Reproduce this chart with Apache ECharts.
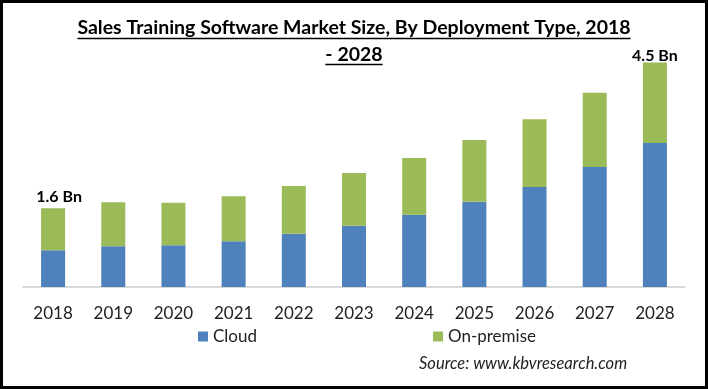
<!DOCTYPE html>
<html>
<head>
<meta charset="utf-8">
<script src="https://cdn.jsdelivr.net/npm/echarts@6/dist/echarts.min.js"></script>
<style>
html,body{margin:0;padding:0;background:#fff;}
#c{width:708px;height:389px;}
</style>
</head>
<body>
<div id="c"></div>
<script>
const years = ['2018','2019','2020','2021','2022','2023','2024','2025','2026','2027','2028'];
const cloud = [0.74,0.82,0.84,0.92,1.07,1.23,1.45,1.71,2.01,2.41,2.89];
const onPremise = [0.84,0.88,0.85,0.90,0.96,1.06,1.14,1.24,1.36,1.49,1.62];
const endLabels = {0:'1.6 Bn', 10:'4.5 Bn'};
const titleLines = ['Sales Training Software Market Size, By Deployment Type, 2018','- 2028'];
const sourceText = 'Source: www.kbvresearch.com';

const FONT = 'Lato, "Liberation Sans", Arial, sans-serif';
const W = 708, H = 389;

function measure(text, font){
  const cv = document.createElement('canvas');
  const ctx = cv.getContext('2d');
  ctx.font = font;
  return ctx.measureText(text).width;
}
const titleSize = 19.5;
const titleFont = 'bold ' + titleSize + 'px ' + FONT;
const w1 = measure(titleLines[0], titleFont);
const w2 = measure(titleLines[1], titleFont);
const cx = W/2;

const chart = echarts.init(document.getElementById('c'), null, {renderer:'canvas'});
chart.setOption({
  animation:false,
  title:{
    text: titleLines.join('\n'),
    left: cx, top: 14, padding:0, textAlign:'center',
    textStyle:{fontFamily:FONT, fontWeight:'bold', fontSize:titleSize, lineHeight:27, color:'#000'}
  },
  legend:[
    {data:['Cloud'], left:198, top:328, padding:0, itemWidth:10, itemHeight:10, itemGap:0,
     icon:'rect', textStyle:{fontFamily:FONT, fontSize:17, color:'#222'}},
    {data:['On-premise'], left:433, top:328, padding:0, itemWidth:10, itemHeight:10, itemGap:0,
     icon:'rect', textStyle:{fontFamily:FONT, fontSize:17, color:'#222'}}
  ],
  grid:{left:23, right:23, top:38, bottom:102, containLabel:false},
  xAxis:{
    type:'category', data:years,
    axisLine:{lineStyle:{color:'#D9D9D9', width:2}},
    axisTick:{show:false},
    axisLabel:{fontFamily:FONT, fontSize:17, color:'#222', margin:18}
  },
  yAxis:{type:'value', min:0, max:5, show:false, splitLine:{show:false}},
  series:[
    {name:'Cloud', type:'bar', stack:'t', data:cloud, barWidth:24,
     itemStyle:{color:'#4F81BD'}},
    {name:'On-premise', type:'bar', stack:'t', barWidth:24,
     data:onPremise.map((v,i)=>{
       if(endLabels[i]!==undefined){
         return {value:v, label:{show:true, position:'top', formatter:endLabels[i],
           distance: i===0?3:-1, offset: i===0?[6,0]:[0,0],
           fontFamily:FONT, fontWeight:'bold', fontSize:16, color:'#000'}};
       }
       return v;
     }),
     itemStyle:{color:'#9BBB59'}}
  ],
  graphic:[
    {type:'line', shape:{x1:cx-w1/2, y1:38.5, x2:cx+w1/2, y2:38.5}, style:{stroke:'#000', lineWidth:1.5}},
    {type:'line', shape:{x1:cx-w2/2, y1:64.5, x2:cx+w2/2, y2:64.5}, style:{stroke:'#000', lineWidth:1.5}},
    {type:'text', left:419, top:355, style:{text:sourceText, font:'italic 16.5px ' + FONT, fill:'#222'}},
    {type:'rect', shape:{x:1.5, y:1.5, width:W-3, height:H-3}, style:{fill:'none', stroke:'#000', lineWidth:3}}
  ]
});
</script>
</body>
</html>
